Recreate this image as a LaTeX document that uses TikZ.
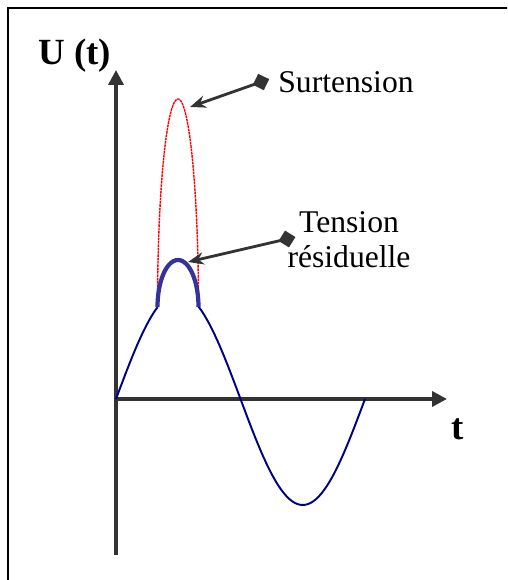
\documentclass[tikz,border=0pt]{standalone}
\usepackage{fontspec}
\setmainfont{Liberation Serif}
\newfontfamily\tnr{Liberation Serif}
\usetikzlibrary{arrows.meta,shapes.geometric}
\definecolor{Axe}{RGB}{51,51,51}
\definecolor{Sine}{RGB}{0,0,128}
\definecolor{Resid}{RGB}{51,51,153}

\begin{document}
\begin{tikzpicture}[x=.02cm,y=.02cm,
 ax/.style={line width=2pt,Axe,-{Triangle[length=8.5pt,width=8.5pt]}},
 a/.style={line width=1.6pt,Axe,-{Stealth[length=9pt,width=7pt]}},
 d/.style={diamond,fill=Axe,inner sep=0,minimum size=10pt},
 lbl/.style={inner sep=0,font=\tnr\fontsize{18}{20}\selectfont},
 big/.style={inner sep=0,font=\tnr\fontsize{21}{24}\selectfont\bfseries}]
\useasboundingbox (0,0) rectangle (507,580);
\clip (0,0) rectangle (507,580);
% frame, cut on the right and at the bottom
\draw[line width=1.1pt] (8,-60) -- (8,572) -- (700,572);
% axes
\coordinate (o) at (116,181);
\coordinate (yb) at (116,25);
\coordinate (yt) at (116,510);
\coordinate (xt) at (447,181);
\draw[ax] (yb)--(yt);
\draw[ax] (o)--(xt);
% sine wave with the two peaks
\draw[Sine,line width=1.1pt] plot[domain=116:157.5,samples=30] (\x,{181+106*sin(1.4458*(\x-116))});
\draw[Sine,line width=1.1pt] plot[domain=198.5:365,samples=80] (\x,{181+106*sin(1.4458*(\x-116))});
\draw[red,line width=.8pt,dash pattern=on 1.5pt off .4pt] plot[domain=180:0,samples=80] ({178+20.5*cos(\x)},{273+208*sin(\x)});
\draw[Resid,line width=2.4pt] plot[domain=180:0,samples=40] ({178+20.5*cos(\x)},{273+47*sin(\x)});
\coordinate (pk) at (190,473);
\coordinate (rs) at (188,318);
% labels
\node[big,anchor=base west] (u) at (38,515) {U (t)};
\node[big,anchor=base west] (t) at (451,140) {t};
\node[lbl,anchor=base west] (s) at (278,487) {Surtension};
\node[lbl,align=center] (r) at (349,340) {Tension\\résiduelle};
\node[d,rotate=19] (ds) at (261,498) {};
\node[d,rotate=13] (dr) at (287,341) {};
\draw[a] (ds.center)--(pk);
\draw[a] (dr.center)--(rs);
\end{tikzpicture}
\end{document}
